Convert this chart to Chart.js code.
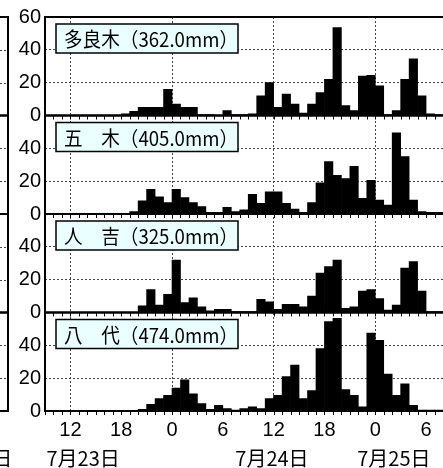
<!DOCTYPE html>
<html>
<head>
<meta charset="utf-8">
<script src="https://cdn.jsdelivr.net/npm/chart.js@4"></script>
<style>
  html, body { margin: 0; padding: 0; background: #fff; overflow: hidden; }
</style>
</head>
<body>
<canvas id="rainChart" width="443" height="468"></canvas>
<script>
// hour ending (hours counted from 7/23 0:00)
const hourEnd = [10, 11, 12, 13, 14, 15, 16, 17, 18, 19, 20, 21, 22, 23, 24, 25, 26, 27, 28, 29,
    30, 31, 32, 33, 34, 35, 36, 37, 38, 39, 40, 41, 42, 43, 44, 45, 46, 47, 48, 49,
    50, 51, 52, 53, 54, 55, 56];

// hourly rainfall (mm)
const taragi = [0, 0, 0, 0, 0, 0, 0, 0, 0, 1, 2.5, 5, 5, 5, 16, 7, 5, 5, 0.5, 0.5,
    0, 3, 0.5, 0.5, 1, 12, 20, 5, 13, 7, 1.5, 7, 14, 22, 53.5, 6, 3, 24, 24.5, 18,
    0.5, 3, 22, 34.5, 12, 1, 0.5];
const itsuki = [0, 0, 0, 0, 0, 0, 0, 0, 0, 0, 1.5, 8, 15, 10.5, 7, 15, 10, 7, 4.5, 1,
    1, 4, 1.5, 2.5, 12, 6.5, 13.5, 13.5, 6.5, 3, 1, 7, 19, 32, 23.5, 21.5, 29, 9.5, 20.5, 8.5,
    5.5, 49.5, 35, 8.5, 1.5, 1, 1];
const hitoyoshi = [0, 0, 0, 0, 0, 0, 0, 0, 0, 0, 0, 4, 14, 4.5, 11, 32, 6, 9, 3.5, 1,
    2, 2, 0.5, 0.5, 0.5, 8, 6.5, 2, 5, 5, 3.5, 10, 24, 28, 32, 2.5, 3.5, 13, 14, 8.5,
    1.5, 4.5, 27, 31, 13, 0.5, 0.5];
const yatsushiro = [0, 0, 0, 0, 0, 0, 0, 0, 0, 0, 0, 1, 4, 7.5, 9.5, 14, 19, 10.5, 4.5, 1,
    3.5, 1.5, 0.5, 1.5, 2.5, 1.5, 7.5, 9.5, 21, 28, 7.5, 12.5, 38, 54.5, 56.5, 13, 9.5, 2.5, 47.5, 43,
    22.5, 9.5, 16.5, 3.5, 0.5, 0.5, 0.5];

// panels from top to bottom
const stationNames = ['多良木', '五　木', '人　吉', '八　代'];
const stationTotals = ['362.0', '405.0', '325.0', '474.0'];
const stationSeries = [taragi, itsuki, hitoyoshi, yatsushiro];
const axisIds = ['yTaragi', 'yItsuki', 'yHitoyoshi', 'yYatsushiro'];

// x tick positions (labelled as hour of day)
const xTickHours = [12, 18, 24, 30, 36, 42, 48, 54];

// date captions under the axis, centred at these hours
const dayLabels = ['7月22日', '7月23日', '7月24日', '7月25日'];
const dayLabelHours = [0.8, 13.5, 35.8, 50.2];

const tickFont = { family: "'Liberation Sans', Arial, sans-serif", size: 20 };
const jpFont = "20px 'Noto Sans CJK JP', sans-serif";
const gridColor = '#444';
const clear = 'rgba(0,0,0,0)';

function panelAxis(showTop) {
    return {
        type: 'linear',
        position: 'left',
        stack: 'rain',
        stackWeight: 1,
        min: 0,
        max: 60,
        border: { display: false, dash: [2, 2] },
        grid: {
            drawTicks: false,
            color: c => (c.tick && c.tick.value % 60 !== 0 ? gridColor : clear)
        },
        ticks: {
            stepSize: 20,
            autoSkip: false,
            padding: 4,
            color: '#000',
            font: tickFont,
            callback: v => (v === 60 && !showTop ? '' : v)
        },
        afterFit: s => { s.width = 45; }
    };
}

// first stacked axis ends up at the bottom
const scales = {
    x: {
        type: 'linear',
        bounds: 'data',
        offset: false,
        min: 9,
        max: 56,
        border: { display: false, dash: [2, 2] },
        grid: {
            offset: false,
            drawTicks: false,
            color: c => (c.tick && c.tick.value % 12 === 0 ? gridColor : clear)
        },
        ticks: {
            autoSkip: false,
            maxRotation: 0,
            padding: 7,
            color: '#000',
            font: tickFont,
            callback: v => v % 24
        },
        afterBuildTicks: s => { s.ticks = xTickHours.map(v => ({ value: v })); },
        afterFit: s => { s.height = 57; }
    }
};
for (let i = axisIds.length - 1; i >= 0; i--) {
    scales[axisIds[i]] = panelAxis(i === 0);
}

const datasets = stationSeries.map((vals, i) => ({
    label: stationNames[i],
    yAxisID: axisIds[i],
    data: hourEnd.map((h, k) => ({ x: h - 0.5, y: vals[k] })),
    backgroundColor: '#000',
    borderWidth: 0,
    grouped: false,
    barPercentage: 1,
    categoryPercentage: 1
}));

// frames, hour ticks, station boxes, date captions
const decorPlugin = {
    id: 'decor',
    afterDraw(chart) {
        const { ctx, chartArea: a, scales: sc } = chart;
        const x = sc.x;
        ctx.save();

        // edge of the neighbouring panel on the left
        const edge = a.left - 37;
        axisIds.forEach(id => {
            const s = sc[id];
            ctx.strokeStyle = gridColor;
            ctx.lineWidth = 1;
            ctx.setLineDash([2, 2]);
            [20, 40].forEach(v => {
                const py = Math.round(s.getPixelForValue(v)) + 0.5;
                ctx.beginPath();
                ctx.moveTo(0, py);
                ctx.lineTo(edge, py);
                ctx.stroke();
            });
            ctx.setLineDash([]);
            ctx.strokeStyle = '#000';
            ctx.lineWidth = 2;
            ctx.beginPath();
            ctx.moveTo(0, s.top);
            ctx.lineTo(edge, s.top);
            ctx.moveTo(0, s.bottom);
            ctx.lineTo(edge, s.bottom);
            ctx.stroke();
        });
        ctx.beginPath();
        ctx.moveTo(edge, a.top - 1);
        ctx.lineTo(edge, a.bottom + 1);
        ctx.stroke();

        // hour ticks under each panel
        ctx.lineWidth = 1;
        axisIds.forEach(id => {
            const s = sc[id];
            ctx.beginPath();
            for (let h = Math.ceil(x.min); h <= x.max; h++) {
                const px = Math.round(x.getPixelForValue(h)) + 0.5;
                ctx.moveTo(px, s.bottom);
                ctx.lineTo(px, s.bottom + 4);
            }
            ctx.stroke();
        });

        // panel frames
        ctx.lineWidth = 2;
        axisIds.forEach(id => {
            const s = sc[id];
            ctx.beginPath();
            ctx.moveTo(a.right, s.top);
            ctx.lineTo(a.left, s.top);
            ctx.lineTo(a.left, s.bottom);
            ctx.lineTo(a.right, s.bottom);
            ctx.stroke();
        });

        // station name boxes
        ctx.font = jpFont;
        ctx.textBaseline = 'middle';
        ctx.textAlign = 'left';
        axisIds.forEach((id, i) => {
            const s = sc[id];
            const bx = a.left + 11, by = s.top + 7, bw = 182, bh = 29;
            ctx.fillStyle = '#eaffff';
            ctx.fillRect(bx, by, bw, bh);
            ctx.lineWidth = 1.5;
            ctx.strokeStyle = '#000';
            ctx.strokeRect(bx, by, bw, bh);
            ctx.fillStyle = '#000';
            ctx.fillText(stationNames[i] + '（' + stationTotals[i] + 'mm）', bx + 8, by + bh / 2 + 1, bw - 8);
        });

        // dates
        ctx.textAlign = 'center';
        dayLabels.forEach((t, i) => {
            ctx.fillText(t, x.getPixelForValue(dayLabelHours[i]), 458);
        });
        ctx.restore();
    }
};

new Chart(document.getElementById('rainChart'), {
    type: 'bar',
    data: { datasets: datasets },
    options: {
        responsive: false,
        animation: false,
        layout: { padding: { top: 17, right: 0, bottom: 0, left: 0 } },
        plugins: { legend: { display: false }, tooltip: { enabled: false } },
        scales: scales
    },
    plugins: [decorPlugin]
});
</script>
</body>
</html>
